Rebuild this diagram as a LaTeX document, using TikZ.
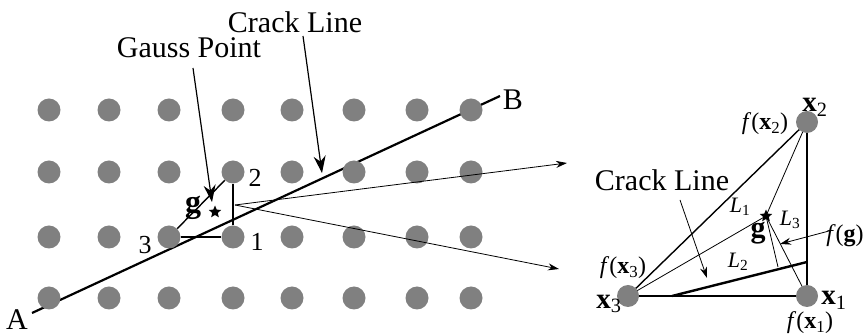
\documentclass[tikz,border=0pt]{standalone}
\usepackage{fontspec}
\setmainfont{Liberation Serif}
\usetikzlibrary{shapes.geometric,arrows.meta}
\definecolor{dotgray}{HTML}{808080}
\tikzset{
  gdot/.style={circle,fill=dotgray,minimum size=23pt,inner sep=0pt},
  rdot/.style={circle,fill=dotgray,minimum size=22pt,inner sep=0pt},
  gstar/.style={star,star points=5,star point ratio=2.2,fill=black,inner sep=0pt,minimum size=13pt},
  bigtxt/.style={font=\fontsize{30}{32}\selectfont,inner sep=0pt},
  numtxt/.style={font=\fontsize{26}{28}\selectfont,inner sep=0pt},
  midtxt/.style={font=\fontsize{24}{26}\selectfont,inner sep=0pt},
  smalltxt/.style={font=\fontsize{22}{24}\selectfont,inner sep=0pt},
  bigarrow/.style={line width=1.2pt,-{Stealth[length=17pt,width=12pt]}},
  thinarrow/.style={line width=0.8pt,-{Stealth[length=11pt,width=7pt]}},
  cracklw/.style={line width=2.2pt},
  trilw/.style={line width=1.4pt},
  thinlw/.style={line width=0.8pt}
}
\begin{document}
\begin{tikzpicture}[x=1pt,y=-1pt]
\useasboundingbox (0,0) rectangle (863,336);
% crack line A-B
\coordinate (A) at (32,313);
\coordinate (B) at (500,96);
\draw[cracklw] (A) -- (B);
\node[bigtxt] (labA) at (17,320) {A};
\node[bigtxt] (labB) at (513,100) {B};
% grid of dots
\foreach \r/\y in {1/110,2/172,3/237,4/298}{
  \foreach \c/\x in {1/49,2/109,3/169,4/233,5/292,6/354,7/417,8/471}{
    \node[gdot] (d\r\c) at (\x,\y) {};
  }
}
% small triangle
\draw[trilw] (d33) -- (d34);
\draw[trilw] (d34) -- (d24);
\draw[trilw] (d33) -- (d24);
\node[numtxt] (n2) at (255,178) {2};
\node[numtxt] (n1) at (257,242) {1};
\node[numtxt] (n3) at (145,245) {3};
\node[font=\fontsize{32}{34}\selectfont\bfseries,inner sep=0pt] (gl) at (193,208) {g};
\node[gstar] (gs) at (215,212) {};
% labels with arrows
\node[bigtxt] (gauss) at (189,48) {Gauss Point};
\node[bigtxt] (crack) at (295,22) {Crack Line};
\coordinate (gaussS) at (193,68);
\coordinate (gaussT) at (212,202);
\draw[bigarrow] (gaussS) -- (gaussT);
\coordinate (crackS) at (303,36);
\coordinate (crackT) at (322,173);
\draw[bigarrow] (crackS) -- (crackT);
% zoom arrows
\coordinate (src) at (235,205);
\coordinate (upT) at (567,163);
\coordinate (loT) at (559,269);
\draw[thinarrow] (src) -- (upT);
\draw[thinarrow] (src) -- (loT);
% right triangle
\coordinate (X3c) at (628,296);
\coordinate (X1c) at (807,296);
\coordinate (X2c) at (807,122);
\coordinate (c1) at (672,296);
\coordinate (c2) at (807,262);
\coordinate (foot) at (778,267);
\coordinate (G) at (766,216);
\draw[trilw] (X3c) -- (X2c);
\draw[trilw] (X2c) -- (X1c);
\draw[trilw] (X3c) -- (X1c);
\draw[line width=2.4pt] (c1) -- (c2);
\draw[thinlw] (X2c) -- (G);
\draw[thinlw] (X3c) -- (G);
\draw[thinlw] (X1c) -- (G);
\draw[thinlw] (G) -- (foot);
\node[rdot] (X3) at (X3c) {};
\node[rdot] (X1) at (X1c) {};
\node[rdot] (X2) at (X2c) {};
\node[gstar] (gstar2) at (G) {};
% right labels
\node[font=\fontsize{29}{31}\selectfont,inner sep=0pt] (lx2) at (815,107) {\textbf{x}\textsubscript{2}};
\node[midtxt] (lfx2) at (765,124) {\textit{f}(\textbf{x}\textsubscript{2})};
\node[font=\fontsize{29}{31}\selectfont,inner sep=0pt] (lx3) at (609,304) {\textbf{x}\textsubscript{3}};
\node[midtxt] (lfx3) at (623,268) {\textit{f}(\textbf{x}\textsubscript{3})};
\node[font=\fontsize{29}{31}\selectfont,inner sep=0pt] (lx1) at (834,300) {\textbf{x}\textsubscript{1}};
\node[midtxt] (lfx1) at (810,323) {\textit{f}(\textbf{x}\textsubscript{1})};
\node[smalltxt] (L1) at (740,207) {\textit{L}\textsubscript{1}};
\node[smalltxt] (L3) at (790,220) {\textit{L}\textsubscript{3}};
\node[smalltxt] (L2) at (738,262) {\textit{L}\textsubscript{2}};
\node[font=\fontsize{30}{32}\selectfont\bfseries,inner sep=0pt] (gr) at (758,233) {g};
\node[midtxt] (fg) at (845,236) {\textit{f}(\textbf{g})};
\coordinate (fgS) at (829,231);
\coordinate (fgT) at (780,244);
\draw[thinarrow] (fgS) -- (fgT);
\node[bigtxt] (crack2) at (662,180) {Crack Line};
\coordinate (c2S) at (680,200);
\coordinate (c2T) at (707,278);
\draw[thinarrow] (c2S) -- (c2T);
\end{tikzpicture}
\end{document}
